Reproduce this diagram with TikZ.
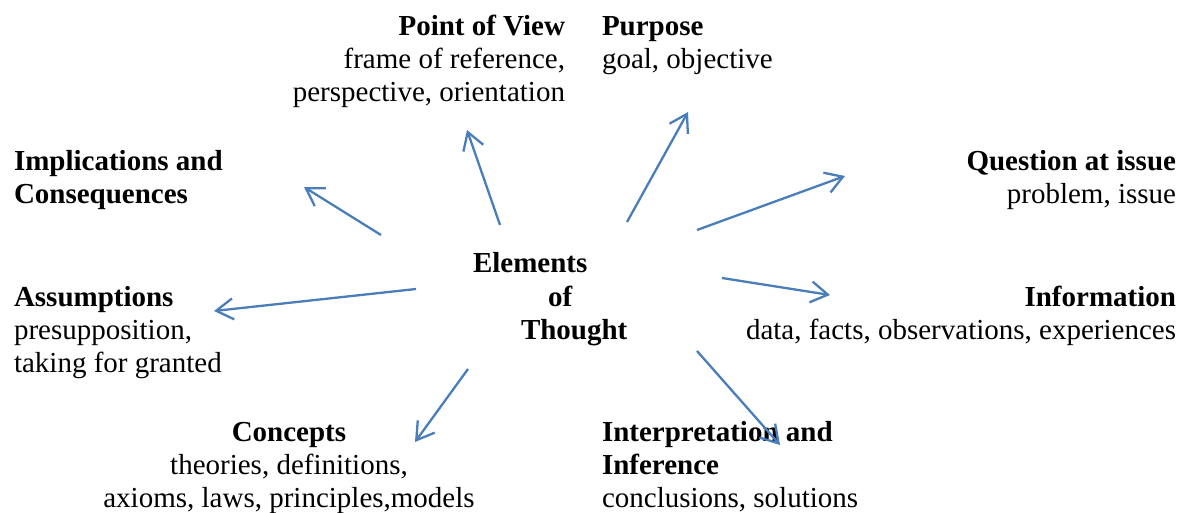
\documentclass[tikz,border=0pt]{standalone}
\usepackage{fontspec}
\setmainfont{Liberation Serif}
\usetikzlibrary{arrows.meta}
\definecolor{arrowblue}{HTML}{4A7EBB}
\tikzset{
  lbl/.style={inner sep=0pt, outer sep=0pt, font=\fontsize{29}{33}\selectfont},
  arr/.style={draw=arrowblue, line width=2.3pt, -{Straight Barb[length=17pt,width=21pt,line width=2.3pt]}}
}
\begin{document}
\begin{tikzpicture}[x=1pt,y=1pt]
\useasboundingbox (0,0) rectangle (1183,-513);
% texts (anchor = baseline of the last line)
\node[lbl, anchor=base east, align=right] (pov) at (565,-102) {\textbf{Point of View}\\frame of reference,\\perspective, orientation};
\node[lbl, anchor=base west, align=left] (pur) at (602,-69) {\textbf{Purpose}\\goal, objective};
\node[lbl, anchor=base west, align=left] (imp) at (14,-204) {\textbf{Implications and}\\\textbf{Consequences}};
\node[lbl, anchor=base east, align=right] (que) at (1176,-204) {\textbf{Question at issue}\\problem, issue};
\node[lbl, anchor=base west] (el1) at (473,-272) {\textbf{Elements}};
\node[lbl, anchor=base west] (el2) at (548,-306) {\textbf{of}};
\node[lbl, anchor=base west] (el3) at (521,-339) {\textbf{Thought}};
\node[lbl, anchor=base west, align=left] (ass) at (14,-372) {\textbf{Assumptions}\\presupposition,\\taking for granted};
\node[lbl, anchor=base east, align=right] (inf) at (1176,-339) {\textbf{Information}\\data, facts, observations, experiences};
\node[lbl, anchor=base, align=center] (con) at (289,-507) {\textbf{Concepts}\\theories, definitions,\\axioms, laws, principles,models};
\node[lbl, anchor=base west, align=left] (int) at (602,-507) {\textbf{Interpretation and}\\\textbf{Inference}\\conclusions, solutions};
% arrow endpoints
\coordinate (s1) at (500,-225); \coordinate (e1) at (467,-130);
\coordinate (s2) at (627,-222); \coordinate (e2) at (688,-112);
\coordinate (s3) at (697,-230); \coordinate (e3) at (845,-176);
\coordinate (s4) at (381,-235); \coordinate (e4) at (304,-187);
\coordinate (s5) at (416,-289); \coordinate (e5) at (214,-311);
\coordinate (s6) at (722,-278); \coordinate (e6) at (830,-295);
\coordinate (s7) at (468,-369); \coordinate (e7) at (415,-442);
\coordinate (s8) at (697,-351); \coordinate (e8) at (780,-445);
\foreach \i in {1,...,8} { \draw[arr] (s\i) -- (e\i); }
\end{tikzpicture}
\end{document}
